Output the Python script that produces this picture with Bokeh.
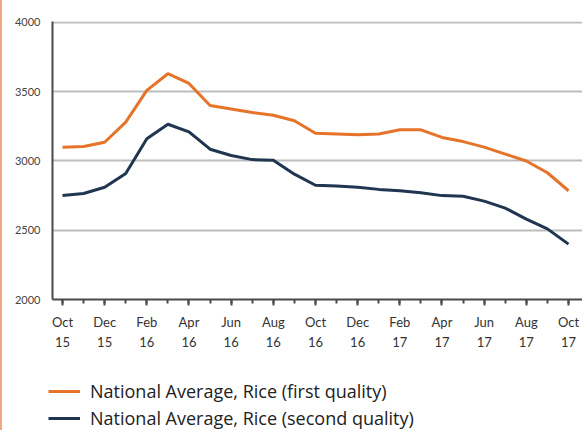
from bokeh.plotting import figure
from bokeh.layouts import column
from bokeh.models import Range1d, FixedTicker, Legend, LegendItem
from bokeh.embed import file_html
from bokeh.resources import INLINE

months = ["Oct\n15", "Nov\n15", "Dec\n15", "Jan\n16", "Feb\n16", "Mar\n16", "Apr\n16",
          "May\n16", "Jun\n16", "Jul\n16", "Aug\n16", "Sep\n16", "Oct\n16", "Nov\n16",
          "Dec\n16", "Jan\n17", "Feb\n17", "Mar\n17", "Apr\n17", "May\n17", "Jun\n17",
          "Jul\n17", "Aug\n17", "Sep\n17", "Oct\n17"]
first_quality = [3100, 3105, 3135, 3280, 3510, 3630, 3560, 3400, 3375, 3350, 3330, 3290,
                 3200, 3195, 3190, 3195, 3225, 3225, 3170, 3140, 3100, 3050, 3000, 2915, 2785]
second_quality = [2750, 2765, 2810, 2910, 3160, 3265, 3210, 3085, 3040, 3010, 3005, 2905,
                  2825, 2820, 2810, 2795, 2785, 2770, 2750, 2745, 2710, 2660, 2580, 2510, 2400]
y_ticks = [2000, 2500, 3000, 3500, 4000]
series_names = ["National Average, Rice (first quality)", "National Average, Rice (second quality)"]

ORANGE = "#e5742a"
NAVY = "#1f3550"
FONT = "Lato"
EDGE = {"border-left": "2px solid #f4a47f"}

x = list(range(len(months)))

p = figure(width=582, height=352, output_backend="svg", toolbar_location=None,
           x_range=Range1d(-0.474, 24.664), y_range=Range1d(2000, 4007),
           min_border_left=50, min_border_right=2, min_border_top=21, min_border_bottom=52,
           styles=EDGE)
p.outline_line_color = None
p.background_fill_color = "white"
p.border_fill_color = "white"

p.line(x, first_quality, line_color=ORANGE, line_width=3)
p.line(x, second_quality, line_color=NAVY, line_width=3)

# x axis
xa = p.xaxis[0]
xa.ticker = FixedTicker(ticks=x[::2], minor_ticks=x)
xa.major_label_overrides = {i: months[i] for i in x}
xa.axis_line_color = "#4a4a4a"
xa.axis_line_width = 2
xa.major_tick_line_color = "#4a4a4a"
xa.major_tick_line_width = 2
xa.minor_tick_line_color = "#4a4a4a"
xa.minor_tick_line_width = 2
xa.major_tick_in = 0
xa.major_tick_out = 6
xa.minor_tick_in = 0
xa.minor_tick_out = 4
xa.major_label_standoff = 8
xa.major_label_text_font = FONT
xa.major_label_text_font_size = "13px"
xa.major_label_text_color = "#333333"
xa.major_label_text_line_height = 1.25

# y axis
ya = p.yaxis[0]
ya.ticker = FixedTicker(ticks=y_ticks)
ya.axis_line_color = "#4a4a4a"
ya.axis_line_width = 2
ya.major_tick_line_color = None
ya.minor_tick_line_color = None
ya.major_label_standoff = 6
ya.major_label_text_font = FONT
ya.major_label_text_font_size = "11px"
ya.major_label_text_color = "#444444"

p.xgrid.grid_line_color = None
p.ygrid.grid_line_color = "#bdbdbd"
p.ygrid.grid_line_width = 2
p.ygrid.ticker = FixedTicker(ticks=y_ticks)

# legend strip below the chart
p2 = figure(width=582, height=78, output_backend="svg", toolbar_location=None,
            x_axis_type=None, y_axis_type=None,
            x_range=Range1d(0, 1), y_range=Range1d(10000, 10001),
            min_border_left=0, min_border_right=0, min_border_top=0, min_border_bottom=0,
            styles=EDGE)
p2.grid.visible = False
p2.outline_line_color = None
l1 = p2.line(x, first_quality, line_color=ORANGE, line_width=3)
l2 = p2.line(x, second_quality, line_color=NAVY, line_width=3)

for fig in (p, p2):
    if "frame_align" in fig.properties():
        fig.frame_align = False

legend = Legend(items=[LegendItem(label=series_names[0], renderers=[l1]),
                       LegendItem(label=series_names[1], renderers=[l2])],
                location=(46, 0), orientation="vertical",
                padding=0, margin=0, spacing=3,
                glyph_width=32, glyph_height=24, label_height=24,
                label_standoff=10,
                label_text_font="Open Sans", label_text_font_size="18px", label_text_color="#222222",
                border_line_color=None, background_fill_alpha=0)
p2.add_layout(legend, "center")

layout = column(p, p2, spacing=0)
open("out.html", "w").write(file_html(layout, INLINE))
